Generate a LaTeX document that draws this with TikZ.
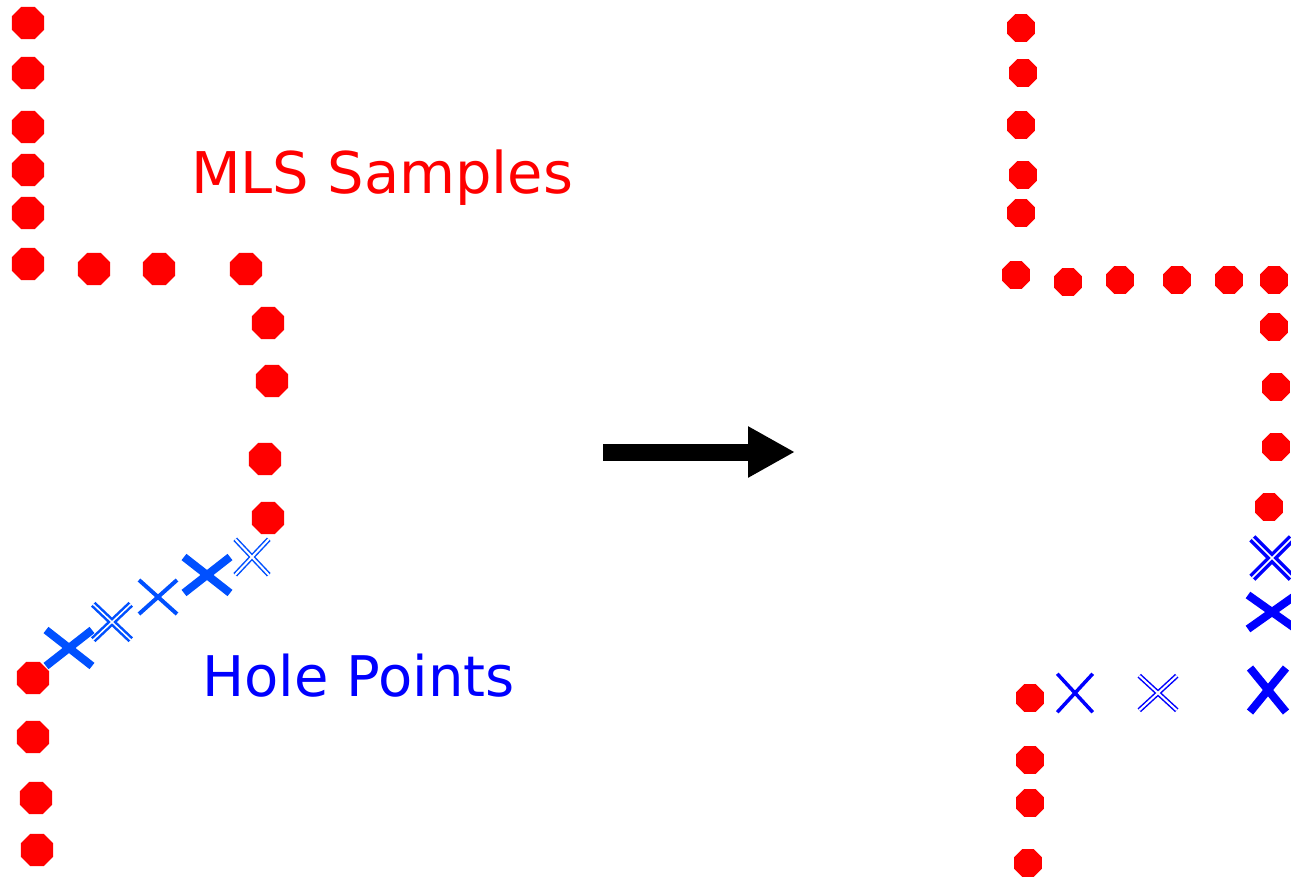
\documentclass[tikz,border=0pt]{standalone}
\usepackage{fontspec}
\setmainfont{DejaVu Sans}
\usetikzlibrary{shapes.geometric,shapes.misc,arrows.meta}
\definecolor{sampred}{RGB}{255,0,0}
\definecolor{holeblue}{RGB}{0,80,255}
\definecolor{pureblue}{RGB}{0,0,255}
\tikzset{
  sample/.style={regular polygon, regular polygon sides=8, fill=sampred,
    draw=none, inner sep=0pt, minimum size=35pt},
  samplesm/.style={sample, minimum size=30pt},
  holecross/.style={cross out, inner sep=0pt, line cap=butt},
  boldx/.style={holecross, draw, line width=8pt},
  midx/.style={holecross, draw, line width=4pt},
  dblx/.style={holecross, draw, line width=1.5pt, double=white, double distance=2pt},
  dblboldx/.style={holecross, draw, line width=2.5pt, double=white, double distance=1.5pt},
  label/.style={anchor=base west, inner sep=0pt},
  bigarrow/.style={line width=17pt, -{Triangle[length=47pt,width=48pt]}}
}
\begin{document}
\begin{tikzpicture}[x=1pt,y=-1pt]
\useasboundingbox (0,0) rectangle (1291,879);
\clip (0,0) rectangle (1291,879);

% left panel: MLS samples
\foreach \n/\px/\py in {a1/28/23, a2/28/73, a3/28/127, a4/28/170, a5/28/213, a6/28/264,
  a7/94/269, a8/159/269, a9/246/269,
  a10/268/323, a11/272/381, a12/265/459, a13/268/518,
  b1/33/678, b2/33/737, b3/36/798, b4/37/850}
  \node[sample] (\n) at (\px,\py) {};

% left panel: hole points
\node[boldx, draw=holeblue, minimum width=38pt, minimum height=28pt] (h1) at (69,648) {};
\node[dblboldx, draw=holeblue, minimum width=35pt, minimum height=33pt] (h2) at (112,622) {};
\node[midx, draw=holeblue, minimum width=34pt, minimum height=30pt] (h3) at (158,597) {};
\node[boldx, draw=holeblue, minimum width=38pt, minimum height=28pt] (h4) at (207,575) {};
\node[dblx, draw=holeblue, minimum width=32pt, minimum height=34pt] (h5) at (252,557) {};

\node[label, text=sampred, font=\fontsize{57.5}{69}\selectfont] (mls) at (191,193) {MLS Samples};
\node[label, text=pureblue, font=\fontsize{56}{67}\selectfont] (hole) at (202,696) {Hole Points};

% transition arrow
\coordinate (arrowstart) at (603,452);
\coordinate (arrowend) at (795,452);
\draw[bigarrow] (arrowstart) -- (arrowend);

% right panel: MLS samples
\foreach \n/\px/\py in {c1/1021/28, c2/1023/73, c3/1021/125, c4/1023/175, c5/1021/213,
  c6/1016/275, c7/1068/282, c8/1120/280, c9/1177/280, c10/1229/280, c11/1274/280,
  c12/1274/327, c13/1276/387, c14/1276/447, c15/1269/507,
  d1/1030/698, d2/1030/760, d3/1030/803, d4/1028/863}
  \node[samplesm] (\n) at (\px,\py) {};

% right panel: hole points after filling
\node[midx, line width=3.5pt, draw=pureblue, minimum width=32pt, minimum height=35pt] (r1) at (1075,693) {};
\node[dblx, draw=pureblue, minimum width=36pt, minimum height=33pt] (r2) at (1158,693) {};
\node[boldx, draw=pureblue, minimum width=28pt, minimum height=36pt] (r3) at (1268,690) {};
\node[boldx, draw=pureblue, minimum width=40pt, minimum height=26pt] (r4) at (1272,612) {};
\node[dblboldx, line width=3.5pt, draw=pureblue, minimum width=36pt, minimum height=36pt] (r5) at (1272,558) {};
\end{tikzpicture}
\end{document}
